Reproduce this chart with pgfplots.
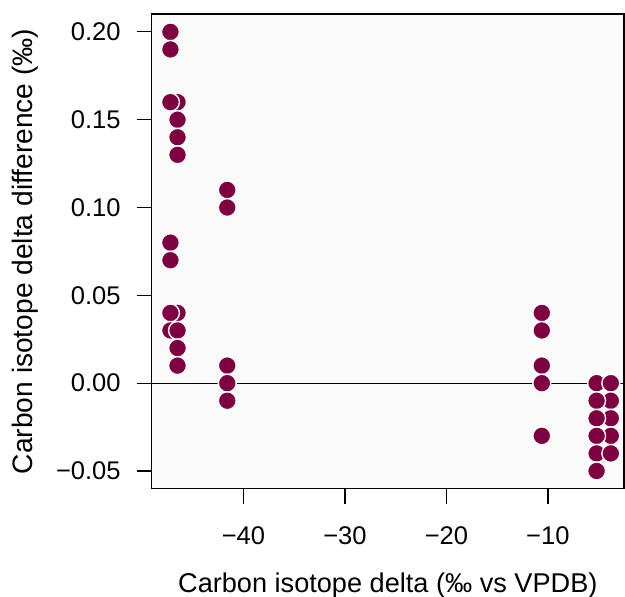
\documentclass[border=0pt]{standalone}
\usepackage{fontspec}
\setmainfont{Liberation Sans}
\usepackage{pgfplots}
\pgfplotsset{compat=1.18}
\definecolor{pt}{HTML}{7F0040}
\definecolor{bg}{HTML}{FAFAFA}
\begin{document}
\begin{tikzpicture}
\begin{axis}[
  scale only axis,
  width=236.7pt, height=238pt,
  xmin=-49.05, xmax=-2.5,
  ymin=-0.0602, ymax=0.2102,
  axis background/.style={fill=bg},
  axis line style={black, line width=0.6pt},
  tick align=outside,
  xtick pos=bottom, ytick pos=left,
  major tick length=7.5pt,
  tick style={black, line width=0.6pt},
  xtick={-40,-30,-20,-10},
  xticklabels={−40,−30,−20,−10},
  ytick={-0.05,0,0.05,0.10,0.15,0.20},
  yticklabels={−0.05,0.00,0.05,0.10,0.15,0.20},
  ticklabel style={font=\fontsize{12.8}{15}\selectfont},
  xticklabel style={yshift=-8pt},
  yticklabel style={xshift=-4.5pt},
  xlabel={Carbon isotope delta (‰ vs VPDB)},
  ylabel={Carbon isotope delta difference (‰)},
  xlabel style={font=\fontsize{13.6}{16}\selectfont, at={(rel axis cs:0.5,0)}, anchor=base, yshift=-52pt},
  ylabel style={font=\fontsize{14.1}{16}\selectfont, at={(rel axis cs:0,0.5)}, anchor=base, yshift=59.5pt},
  clip=false,
]
\coordinate (o) at (rel axis cs:0,0);
\coordinate (t) at (rel axis cs:1,1);
\addplot[black, line width=0.5pt] coordinates {(-49.05,0) (-2.5,0)};
\addplot[only marks, mark=*, mark size=4.5pt, mark options={fill=pt, draw=white, line width=0.7pt}] coordinates {
(-46.5,0.16)
(-47.2,0.20) (-47.2,0.19) (-47.2,0.16)
(-46.5,0.15) (-46.5,0.14) (-46.5,0.13)
(-47.2,0.08) (-47.2,0.07)
(-46.5,0.04) (-47.2,0.04)
(-47.2,0.03) (-46.5,0.03)
(-46.5,0.02) (-46.5,0.01)
(-41.6,0.11) (-41.6,0.10) (-41.6,0.01) (-41.6,0.00) (-41.6,-0.01)
(-10.6,0.04) (-10.6,0.03) (-10.6,0.01) (-10.6,0.00) (-10.6,-0.03)
(-5.2,0.00) (-3.8,0.00)
(-3.8,-0.01) (-5.2,-0.01)
(-3.8,-0.02) (-5.2,-0.02)
(-3.8,-0.03) (-5.2,-0.03)
(-5.2,-0.04) (-3.8,-0.04)
(-5.2,-0.05)
};
\end{axis}
\pgfresetboundingbox
\path ([xshift=-76pt,yshift=-54pt]o) rectangle ([xshift=0.5pt,yshift=7pt]t);
\end{tikzpicture}
\end{document}
